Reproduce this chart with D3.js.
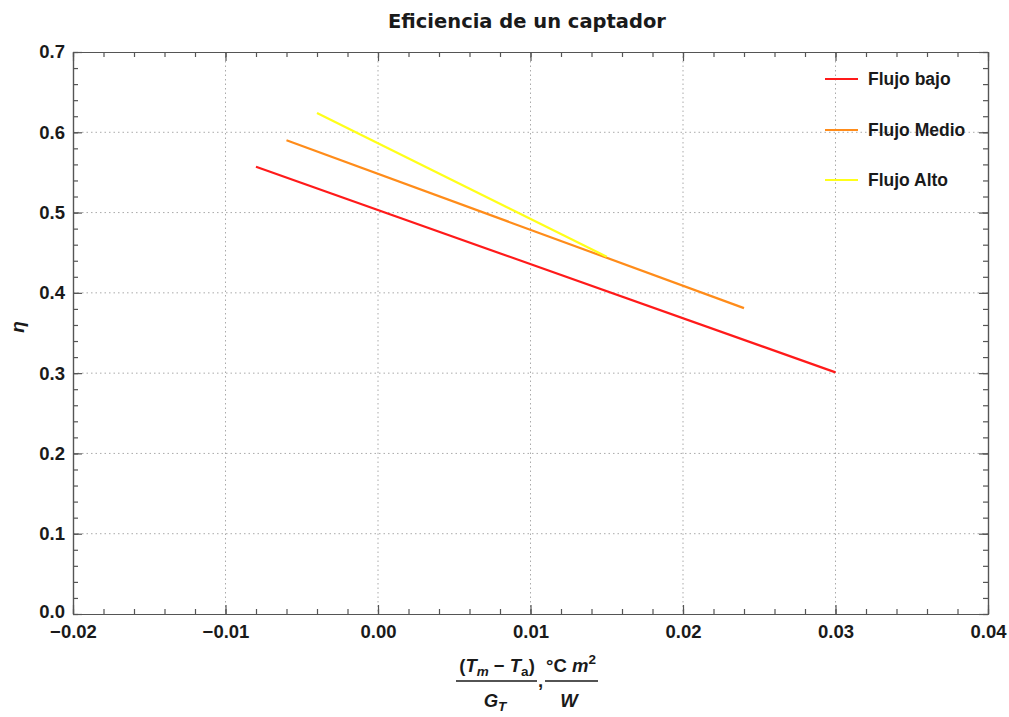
<!DOCTYPE html>
<html>
<head>
<meta charset="utf-8">
<script src="https://cdn.jsdelivr.net/npm/d3@7"></script>
<style>
  body { margin: 0; background: #fff; }
  svg { font-family: "Liberation Sans", Arial, sans-serif; }
  text { fill: #1a1a1a; }
</style>
</head>
<body>
<svg id="chart" width="1009" height="717"></svg>
<script>
// Valeurs
const seriesNames = ["Flujo bajo", "Flujo Medio", "Flujo Alto"];
const seriesColors = ["#ff1a1a", "#ff8c1a", "#ffff1a"];
const bajoX = [-0.008, 0.030];
const bajoY = [0.557, 0.301];
const medioX = [-0.006, 0.024];
const medioY = [0.590, 0.381];
const altoX = [-0.004, 0.015];
const altoY = [0.624, 0.445];
const xTicks = [-0.02, -0.01, 0.00, 0.01, 0.02, 0.03, 0.04];
const yTicks = [0.0, 0.1, 0.2, 0.3, 0.4, 0.5, 0.6, 0.7];

const svg = d3.select("#chart");
const plotLeft = 73, plotRight = 988, plotTop = 52, plotBottom = 614;

const x = d3.scaleLinear().domain([-0.02, 0.04]).range([plotLeft, plotRight]);
const y = d3.scaleLinear().domain([0, 0.7]).range([plotBottom, plotTop]);

// Grille pointillee
const grid = svg.append("g");
grid.selectAll(".gx").data(xTicks.slice(1, -1)).enter().append("line")
  .attr("x1", d => x(d)).attr("x2", d => x(d))
  .attr("y1", plotTop).attr("y2", plotBottom)
  .attr("stroke", "#aaa").attr("stroke-width", 1).attr("stroke-dasharray", "1.5,3");
grid.selectAll(".gy").data(yTicks.slice(1, -1)).enter().append("line")
  .attr("y1", d => y(d)).attr("y2", d => y(d))
  .attr("x1", plotLeft).attr("x2", plotRight)
  .attr("stroke", "#aaa").attr("stroke-width", 1).attr("stroke-dasharray", "1.5,3");

// Courbes
const series = [
  { xs: bajoX, ys: bajoY },
  { xs: medioX, ys: medioY },
  { xs: altoX, ys: altoY }
];
const line = d3.line().x(d => x(d[0])).y(d => y(d[1]));
series.forEach(function(s, i) {
  svg.append("path")
    .datum(d3.zip(s.xs, s.ys))
    .attr("d", line)
    .attr("fill", "none")
    .attr("stroke", seriesColors[i])
    .attr("stroke-width", 2.2);
});

// Cadre et graduations (majeures + mineures vers l'interieur)
const frameColor = "#555";
const xMinor = d3.range(-0.02, 0.0401, 0.002).map(v => +v.toFixed(4));
const yMinor = d3.range(0, 0.7001, 0.02).map(v => +v.toFixed(3));

const axBottom = d3.axisBottom(x).tickValues(xTicks).tickSizeInner(-9).tickSizeOuter(0)
  .tickFormat(d3.format(".2f")).tickPadding(11);
const axBottomMinor = d3.axisBottom(x).tickValues(xMinor).tickSizeInner(-5).tickSizeOuter(0).tickFormat("");
const axTop = d3.axisTop(x).tickValues(xTicks).tickSizeInner(-9).tickSizeOuter(0).tickFormat("");
const axTopMinor = d3.axisTop(x).tickValues(xMinor).tickSizeInner(-5).tickSizeOuter(0).tickFormat("");
const axLeft = d3.axisLeft(y).tickValues(yTicks).tickSizeInner(-9).tickSizeOuter(0)
  .tickFormat(d3.format(".1f")).tickPadding(12);
const axLeftMinor = d3.axisLeft(y).tickValues(yMinor).tickSizeInner(-5).tickSizeOuter(0).tickFormat("");
const axRight = d3.axisRight(y).tickValues(yTicks).tickSizeInner(-9).tickSizeOuter(0).tickFormat("");
const axRightMinor = d3.axisRight(y).tickValues(yMinor).tickSizeInner(-5).tickSizeOuter(0).tickFormat("");

function styleAxis(g) {
  g.selectAll("path, line").attr("stroke", frameColor).attr("stroke-width", 1.2);
  g.selectAll("text").attr("font-size", 18.5).attr("font-weight", "bold")
    .attr("font-family", null).attr("fill", "#1a1a1a");
}
svg.append("g").attr("transform", `translate(0,${plotBottom})`).call(axBottomMinor).call(styleAxis);
svg.append("g").attr("transform", `translate(0,${plotBottom})`).call(axBottom).call(styleAxis)
  .selectAll("text").text(d => d3.format(".2f")(d).replace("-", "\u2212"));
svg.append("g").attr("transform", `translate(0,${plotTop})`).call(axTopMinor).call(styleAxis);
svg.append("g").attr("transform", `translate(0,${plotTop})`).call(axTop).call(styleAxis);
svg.append("g").attr("transform", `translate(${plotLeft},0)`).call(axLeftMinor).call(styleAxis);
svg.append("g").attr("transform", `translate(${plotLeft},0)`).call(axLeft).call(styleAxis)
  .selectAll("text").attr("dx", 4).attr("dy", d => d === 0 ? "0.2em" : "0.32em");
svg.append("g").attr("transform", `translate(${plotRight},0)`).call(axRightMinor).call(styleAxis);
svg.append("g").attr("transform", `translate(${plotRight},0)`).call(axRight).call(styleAxis);

// Titre
svg.append("text")
  .attr("x", 527).attr("y", 28)
  .attr("text-anchor", "middle")
  .style("font-family", "'DejaVu Sans', sans-serif")
  .attr("font-weight", "bold").attr("font-size", 19.5)
  .text("Eficiencia de un captador");

// Etiquette axe Y
svg.append("text")
  .attr("transform", "translate(24,327) rotate(-90)")
  .attr("text-anchor", "middle")
  .attr("font-style", "italic").attr("font-weight", "bold").attr("font-size", 19)
  .text("\u03b7");

// Etiquette axe X : fraction
const lab = svg.append("g").attr("font-weight", "bold").attr("font-size", 18.5);
const num1 = lab.append("text").attr("x", 497).attr("y", 672).attr("text-anchor", "middle");
num1.append("tspan").text("(");
num1.append("tspan").attr("font-style", "italic").text("T");
num1.append("tspan").attr("font-style", "italic").attr("font-size", 13.5).attr("dy", 4).text("m");
num1.append("tspan").attr("dy", -4).text(" \u2212 ");
num1.append("tspan").attr("font-style", "italic").text("T");
num1.append("tspan").attr("font-size", 13.5).attr("dy", 4).text("a");
num1.append("tspan").attr("dy", -4).text(")");
lab.append("line").attr("x1", 456).attr("x2", 537).attr("y1", 681).attr("y2", 681)
  .attr("stroke", "#1a1a1a").attr("stroke-width", 1.6);
const den1 = lab.append("text").attr("x", 495).attr("y", 707).attr("text-anchor", "middle");
den1.append("tspan").attr("font-style", "italic").text("G");
den1.append("tspan").attr("font-style", "italic").attr("font-size", 13.5).attr("dy", 4).text("T");
lab.append("text").attr("x", 538).attr("y", 687).text(",");
const num2 = lab.append("text").attr("x", 571).attr("y", 672).attr("text-anchor", "middle");
num2.append("tspan").text("\u00b0C ");
num2.append("tspan").attr("font-style", "italic").text("m");
num2.append("tspan").attr("font-size", 13.5).attr("dy", -8).text("2");
lab.append("line").attr("x1", 545).attr("x2", 598).attr("y1", 681).attr("y2", 681)
  .attr("stroke", "#1a1a1a").attr("stroke-width", 1.6);
lab.append("text").attr("x", 569).attr("y", 707).attr("text-anchor", "middle")
  .attr("font-style", "italic").text("W");

// Legende
const legY = [79, 130, 180];
seriesNames.forEach(function(name, i) {
  svg.append("line")
    .attr("x1", 825).attr("x2", 858).attr("y1", legY[i]).attr("y2", legY[i])
    .attr("stroke", seriesColors[i]).attr("stroke-width", 2.2);
  svg.append("text")
    .attr("x", 868).attr("y", legY[i] + 6)
    .attr("font-size", 17.5).attr("font-weight", "bold")
    .text(name);
});
</script>
</body>
</html>
